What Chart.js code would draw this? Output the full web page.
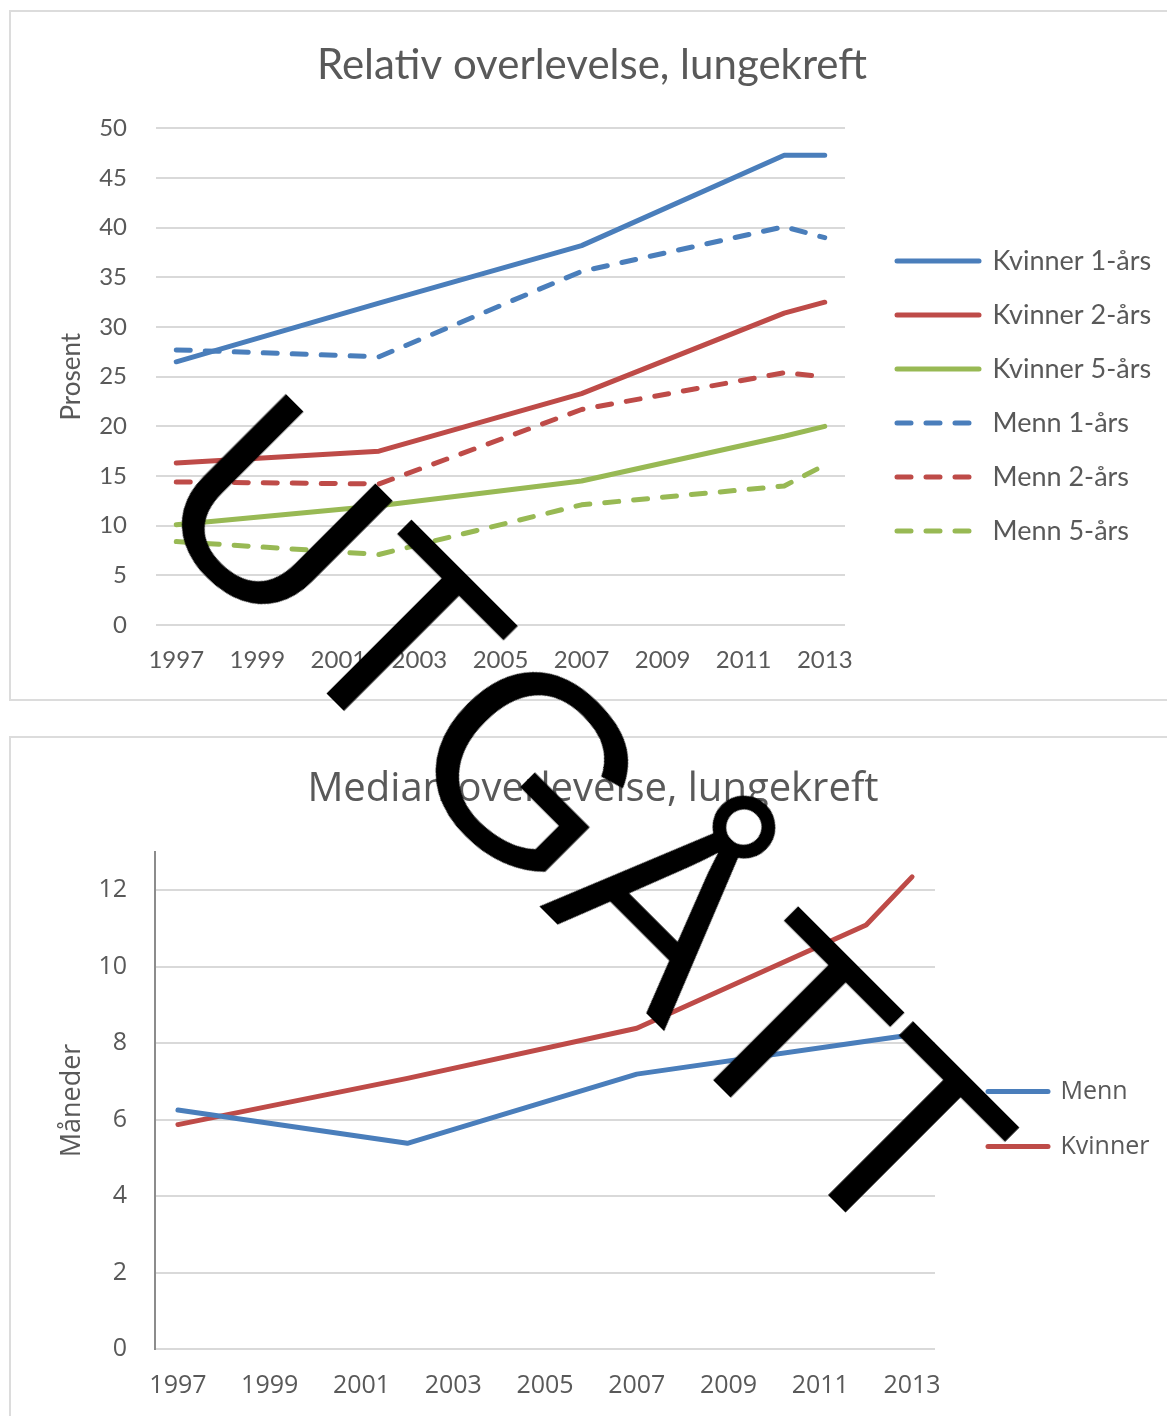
<!DOCTYPE html>
<html lang="no">
<head>
<meta charset="utf-8">
<title>Overlevelse, lungekreft</title>
<script src="https://cdn.jsdelivr.net/npm/chart.js@4/dist/chart.umd.min.js"></script>
<style>
  html, body { margin: 0; padding: 0; background: #fff; }
  body { position: relative; width: 1167px; height: 1416px; overflow: hidden; }
  .frame { position: absolute; border: 2px solid #dcdcdc; box-sizing: border-box; }
  #frame1 { left: 9px; top: 10px; width: 1200px; height: 691px; }
  #frame2 { left: 9px; top: 736px; width: 1200px; height: 720px; }
  canvas { position: absolute; left: 0; }
  #relativ { top: 0; }
  #median { top: 720px; }
  #stamp {
    position: absolute; left: 142px; top: 284px;
    font-family: "Liberation Sans", Arial, sans-serif; font-size: 266px; line-height: 266px;
    color: #000; white-space: nowrap;
    transform-origin: 0 225px; transform: rotate(45deg);
    pointer-events: none;
  }
</style>
</head>
<body>
<div class="frame" id="frame1"></div>
<div class="frame" id="frame2"></div>
<canvas id="relativ" width="1167" height="705"></canvas>
<canvas id="median" width="1167" height="696"></canvas>
<div id="stamp">UTGÅTT</div>

<script>
// Diagnoseår (kategoriakse) og årstallene som vises som etiketter
const years = ['1997','1998','1999','2000','2001','2002','2003','2004','2005','2006','2007','2008','2009','2010','2011','2012','2013'];
const yearTicks = ['1997','1999','2001','2003','2005','2007','2009','2011','2013'];

// Relativ overlevelse (prosent); målinger for 1997, 2002, 2007, 2012 og 2013
const kvinner1Ar = [26.5, null, null, null, null, 32.4, null, null, null, null, 38.2, null, null, null, null, 47.3, 47.3];
const kvinner2Ar = [16.3, null, null, null, null, 17.5, null, null, null, null, 23.3, null, null, null, null, 31.4, 32.5];
const kvinner5Ar = [10.1, null, null, null, null, 12.0, null, null, null, null, 14.5, null, null, null, null, 19.0, 20.0];
const menn1Ar    = [27.7, null, null, null, null, 27.0, null, null, null, null, 35.6, null, null, null, null, 40.1, 39.0];
const menn2Ar    = [14.4, null, null, null, null, 14.2, null, null, null, null, 21.7, null, null, null, null, 25.4, 25.0];
const menn5Ar    = [8.4,  null, null, null, null, 7.1,  null, null, null, null, 12.1, null, null, null, null, 14.0, 16.1];

// Median overlevelse (måneder)
const medianMenn    = [6.25, null, null, null, null, 5.38, null, null, null, null, 7.19, null, null, null, null, 8.05, 8.22];
const medianKvinner = [5.87, null, null, null, null, 7.08, null, null, null, null, 8.39, null, null, null, null, 11.09, 12.35];

const BLUE = '#4A7EBB', RED = '#BE4B48', GREEN = '#98B954';
const TEXT = '#595959', GRID = '#d9d9d9';
const CANVAS_W = 1167;

function series(label, data, color, dashed) {
  return {
    label, data,
    borderColor: color, backgroundColor: color,
    borderWidth: 5,
    borderDash: dashed ? [14, 15] : [],
    borderCapStyle: 'round', borderJoinStyle: 'round',
    pointRadius: 0, pointHoverRadius: 0,
    tension: 0, fill: false, spanGaps: true
  };
}

function yearLabel(value) {
  const l = this.getLabelForValue(value);
  return yearTicks.includes(l) ? l : '';
}

// Legend entries drawn as short line samples carrying each dataset's dash pattern
function lineLegendLabels(chart) {
  const items = Chart.defaults.plugins.legend.labels.generateLabels(chart);
  items.forEach(it => {
    const ds = chart.data.datasets[it.datasetIndex];
    it.lineDash = ds.borderDash;
    it.lineCap = ds.borderCapStyle;
    it.lineWidth = ds.borderWidth;
    it.strokeStyle = ds.borderColor;
  });
  return items;
}

// Horizontal layout: plot edges, legend start and title centre are fixed; paddings follow from them
function horizontalLayout(cfg) {
  const ctx = document.createElement('canvas').getContext('2d');
  ctx.font = cfg.legendSize + 'px ' + cfg.legendFamily;
  const textW = Math.max(...cfg.legendTexts.map(t => ctx.measureText(t).width));
  const legendW = Math.ceil(cfg.legendPadding + cfg.sampleWidth + cfg.legendSize / 2 + textW);
  const padRight = Math.max(0, CANVAS_W - cfg.legendLeft - legendW);
  const padLeft = Math.max(0, 2 * cfg.titleX - (CANVAS_W - padRight));
  return {
    padLeft, padRight,
    yWidth: cfg.plotLeft - padLeft,
    yTitlePad: cfg.yTitleX - padLeft - cfg.yTitleSize * 0.6,
    spacerWidth: cfg.legendLeft - cfg.plotRight,
    legendMax: legendW
  };
}

function spacer(width) {
  return {
    position: 'right', display: true,
    grid: { display: false, drawTicks: false }, border: { display: false },
    ticks: { display: false },
    afterFit(s) { s.width = width; }
  };
}

Chart.defaults.devicePixelRatio = 1;

// Relativ overlevelse
const L1 = horizontalLayout({
  plotLeft: 156, plotRight: 845, legendLeft: 870, titleX: 592, yTitleX: 72, yTitleSize: 26,
  legendTexts: ['Kvinner 1-års', 'Kvinner 2-års', 'Kvinner 5-års', 'Menn 1-års', 'Menn 2-års', 'Menn 5-års'],
  legendFamily: 'Lato', legendSize: 27, legendPadding: 27, sampleWidth: 82
});
new Chart(document.getElementById('relativ'), {
  type: 'line',
  data: {
    labels: years,
    datasets: [
      series('Kvinner 1-års', kvinner1Ar, BLUE, false),
      series('Kvinner 2-års', kvinner2Ar, RED, false),
      series('Kvinner 5-års', kvinner5Ar, GREEN, false),
      series('Menn 1-års', menn1Ar, BLUE, true),
      series('Menn 2-års', menn2Ar, RED, true),
      series('Menn 5-års', menn5Ar, GREEN, true)
    ]
  },
  options: {
    responsive: false, animation: false,
    layout: { padding: { left: L1.padLeft, right: L1.padRight, top: 0, bottom: 0 } },
    plugins: {
      title: {
        display: true, text: 'Relativ overlevelse, lungekreft', color: TEXT,
        font: { family: 'Lato', size: 42, weight: 'normal' },
        padding: { top: 40, bottom: 38 }
      },
      legend: {
        position: 'right', align: 'start', fullSize: true, maxWidth: L1.legendMax,
        title: { display: true, text: '', font: { size: 10 }, padding: { top: 208.5, bottom: 0 } },
        labels: {
          usePointStyle: true, pointStyle: 'line', pointStyleWidth: 82,
          padding: 27, color: TEXT, font: { family: 'Lato', size: 27 },
          generateLabels: lineLegendLabels
        }
      },
      tooltip: { enabled: false }
    },
    scales: {
      x: {
        type: 'category', offset: true,
        grid: { display: false, drawTicks: false }, border: { display: false },
        ticks: { autoSkip: false, maxRotation: 0, padding: 21, color: TEXT,
                 font: { family: 'Lato', size: 24 }, callback: yearLabel },
        afterFit(s) { s.height = 80; }
      },
      y: {
        min: 0, max: 50,
        ticks: { stepSize: 5, padding: 29, color: TEXT, font: { family: 'Lato', size: 24 } },
        grid: { color: GRID, lineWidth: 2, drawTicks: false }, border: { display: false },
        title: { display: true, text: 'Prosent', color: TEXT,
                 font: { family: 'Lato', size: 26 }, padding: { top: L1.yTitlePad, bottom: 0 } },
        afterFit(s) { s.width = L1.yWidth; }
      },
      gap: spacer(L1.spacerWidth)
    }
  }
});

// Median overlevelse
const L2 = horizontalLayout({
  plotLeft: 155, plotRight: 935, legendLeft: 958, titleX: 593, yTitleX: 72, yTitleSize: 27,
  legendTexts: ['Menn', 'Kvinner'],
  legendFamily: 'Open Sans', legendSize: 25, legendPadding: 30, sampleWidth: 60
});
new Chart(document.getElementById('median'), {
  type: 'line',
  data: {
    labels: years,
    datasets: [
      series('Menn', medianMenn, BLUE, false),
      series('Kvinner', medianKvinner, RED, false)
    ]
  },
  options: {
    responsive: false, animation: false,
    layout: { padding: { left: L2.padLeft, right: L2.padRight, top: 0, bottom: 0 } },
    plugins: {
      title: {
        display: true, text: 'Median overlevelse, lungekreft', color: TEXT,
        font: { family: 'Open Sans', size: 40, weight: 'normal' },
        padding: { top: 46, bottom: 38 }
      },
      legend: {
        position: 'right', align: 'start', fullSize: true, maxWidth: L2.legendMax,
        title: { display: true, text: '', font: { size: 10 }, padding: { top: 317, bottom: 0 } },
        labels: {
          usePointStyle: true, pointStyle: 'line', pointStyleWidth: 60,
          padding: 30, color: TEXT, font: { family: 'Open Sans', size: 25 },
          generateLabels: lineLegendLabels
        }
      },
      tooltip: { enabled: false }
    },
    scales: {
      x: {
        type: 'category', offset: true,
        grid: { display: false, drawTicks: false }, border: { display: false },
        ticks: { autoSkip: false, maxRotation: 0, padding: 22, color: TEXT,
                 font: { family: 'Open Sans', size: 25 }, callback: yearLabel },
        afterFit(s) { s.height = 67; }
      },
      y: {
        min: 0, max: 13,
        ticks: { stepSize: 2, includeBounds: false, padding: 28, color: TEXT,
                 font: { family: 'Open Sans', size: 25 } },
        grid: { color: GRID, lineWidth: 2, drawTicks: false },
        border: { display: true, color: '#8c8c8c', width: 2 },
        title: { display: true, text: 'Måneder', color: TEXT,
                 font: { family: 'Open Sans', size: 27 }, padding: { top: L2.yTitlePad, bottom: 0 } },
        afterFit(s) { s.width = L2.yWidth; }
      },
      gap: spacer(L2.spacerWidth)
    }
  }
});
</script>
</body>
</html>
